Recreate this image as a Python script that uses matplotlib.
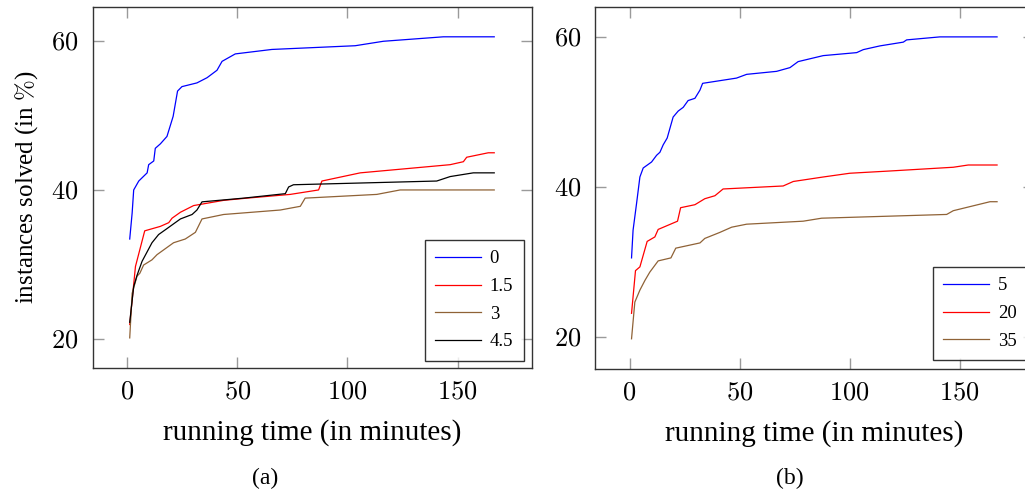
import matplotlib
matplotlib.use('Agg')
import matplotlib.pyplot as plt

plt.rcParams['font.family'] = ['Liberation Serif', 'DejaVu Serif']
plt.rcParams['mathtext.fontset'] = 'cm'

# (a) left panel
a_labels = ['0', '1.5', '3', '4.5']
a0_x = [1.2, 2.3, 3.0, 5.3, 9.1, 9.8, 12.1, 12.8, 15.1, 18.1, 20.9, 22.9, 24.9, 31.7, 36.3,
        40.8, 43.1, 49.1, 65.7, 103.5, 116.3, 143.5, 166.6]
a0_y = [33.4, 36.9, 40.0, 41.2, 42.3, 43.4, 43.9, 45.6, 46.2, 47.2, 49.9, 53.3, 53.9, 54.4, 55.1,
        56.1, 57.3, 58.3, 58.9, 59.4, 60.0, 60.6, 60.6]
a1_x = [1.2, 3.8, 8.0, 15.1, 18.9, 20.4, 24.2, 30.2, 43.8, 54.4, 74.0, 86.9, 88.4, 105.8,
        146.6, 152.6, 154.1, 163.9, 166.6]
a1_y = [21.9, 29.7, 34.5, 35.1, 35.6, 36.2, 37.0, 37.9, 38.6, 38.9, 39.4, 40.0, 41.2, 42.3,
        43.4, 43.8, 44.4, 45.0, 45.0]
a2_x = [1.2, 2.3, 4.5, 5.8, 7.5, 11.3, 13.6, 21.1, 26.4, 31.0, 34.0, 43.8, 69.5, 78.6, 80.8,
        113.3, 123.9, 166.6]
a2_y = [20.1, 26.1, 28.4, 28.8, 29.9, 30.6, 31.3, 32.9, 33.4, 34.3, 36.1, 36.7, 37.3, 37.8, 38.9,
        39.4, 40.0, 40.0]
a3_x = [1.2, 3.0, 4.5, 6.8, 11.3, 14.3, 18.1, 24.2, 29.5, 31.7, 34.0, 52.9, 71.8, 73.3, 75.5,
        140.5, 146.6, 157.1, 166.6]
a3_y = [22.2, 27.0, 28.5, 30.4, 32.9, 34.0, 34.8, 36.1, 36.7, 37.3, 38.4, 38.9, 39.5, 40.4, 40.7,
        41.2, 41.8, 42.3, 42.3]

# (b) right panel
b_labels = ['5', '20', '35']
b0_x = [0.9, 1.6, 3.2, 4.7, 6.2, 10.0, 12.3, 13.8, 15.3, 17.1, 19.8, 22.1, 24.4, 26.6, 29.7,
        32.0, 33.2, 48.6, 53.2, 66.8, 72.9, 76.6, 88.0, 103.2, 106.2, 113.8, 124.4, 125.9,
        141.0, 167.0]
b0_y = [30.5, 34.2, 37.8, 41.3, 42.5, 43.3, 44.2, 44.6, 45.6, 46.5, 49.3, 50.1, 50.6, 51.5, 51.8,
        52.9, 53.8, 54.5, 55.0, 55.4, 55.9, 56.7, 57.5, 57.9, 58.3, 58.8, 59.3, 59.6,
        60.0, 60.0]
b1_x = [0.9, 2.7, 4.7, 8.0, 11.5, 13.0, 21.8, 23.2, 29.7, 34.2, 38.8, 42.5, 69.8, 74.4, 88.0,
        100.1, 118.3, 147.1, 153.9, 167.0]
b1_y = [23.1, 28.8, 29.3, 32.7, 33.3, 34.3, 35.4, 37.2, 37.6, 38.4, 38.8, 39.7, 40.1, 40.7, 41.3,
        41.8, 42.1, 42.6, 42.9, 42.9]
b2_x = [0.9, 2.4, 4.7, 7.0, 9.2, 13.0, 18.8, 21.0, 32.0, 34.2, 41.0, 46.4, 53.2, 78.9, 87.3,
        144.1, 147.1, 163.8, 167.0]
b2_y = [19.7, 24.6, 26.2, 27.5, 28.6, 30.1, 30.5, 31.8, 32.5, 33.1, 33.9, 34.6, 35.0, 35.4, 35.8,
        36.3, 36.8, 38.0, 38.0]

xticks = [0, 50, 100, 150]
yticks = [20, 40, 60]

blue, red, brown, black = '#0000ff', '#ff0000', '#8f6236', '#000000'

fig = plt.figure(figsize=(10.25, 4.96), dpi=100)
W, H = 1025, 496


def make_axes(l, t, r, b):
    return fig.add_axes([l / W, 1 - b / H, (r - l) / W, (b - t) / H])


# the right panel runs past the edge of the picture, as in the original crop
axa = make_axes(92.7, 6.7, 531.7, 368)
axb = make_axes(595, 6.7, 1033.6, 369)

for x, y, c, lab in [(a0_x, a0_y, blue, a_labels[0]), (a1_x, a1_y, red, a_labels[1]),
                     (a2_x, a2_y, brown, a_labels[2]), (a3_x, a3_y, black, a_labels[3])]:
    axa.plot(x, y, color=c, lw=0.9, label=lab)

for x, y, c, lab in [(b0_x, b0_y, blue, b_labels[0]), (b1_x, b1_y, red, b_labels[1]),
                     (b2_x, b2_y, brown, b_labels[2])]:
    axb.plot(x, y, color=c, lw=0.9, label=lab)

axa.set_xlim(-15.6, 183.6)
axa.set_ylim(16.05, 64.65)
axb.set_xlim(-15.7, 183.6)
axb.set_ylim(15.67, 64.03)

for ax in (axa, axb):
    ax.set_xticks(xticks)
    ax.set_xticklabels([f'${t}$' for t in xticks])
    ax.set_yticks(yticks)
    ax.set_yticklabels([f'${t}$' for t in yticks])
    ax.tick_params(direction='in', length=8, width=1, color='#9a9a9a',
                   top=True, right=True, labelsize=19, pad=10)
    for s in ax.spines.values():
        s.set_color('#333333')
        s.set_linewidth(1.0)
    ax.set_xlabel('running time (in minutes)', fontsize=21, labelpad=11)

axa.set_ylabel(r'instances solved (in $\%$)', fontsize=18, labelpad=8)


def add_legend(ax, left, top):
    leg = ax.legend(loc='upper left', bbox_to_anchor=(left / W, 1 - top / H),
                    bbox_transform=fig.transFigure, fontsize=13.5, frameon=True,
                    fancybox=False, edgecolor='black', handlelength=2.45,
                    handletextpad=0.45, borderpad=0.55, labelspacing=0.56,
                    borderaxespad=0)
    leg.get_frame().set_linewidth(1.0)
    return leg


add_legend(axa, 425, 240)
add_legend(axb, 933, 267)

fig.text(265 / W, 1 - 478 / H, '(a)', fontsize=17, ha='center', va='center')
fig.text(790 / W, 1 - 478 / H, '(b)', fontsize=17, ha='center', va='center')

fig.savefig('out.png', dpi=100)
